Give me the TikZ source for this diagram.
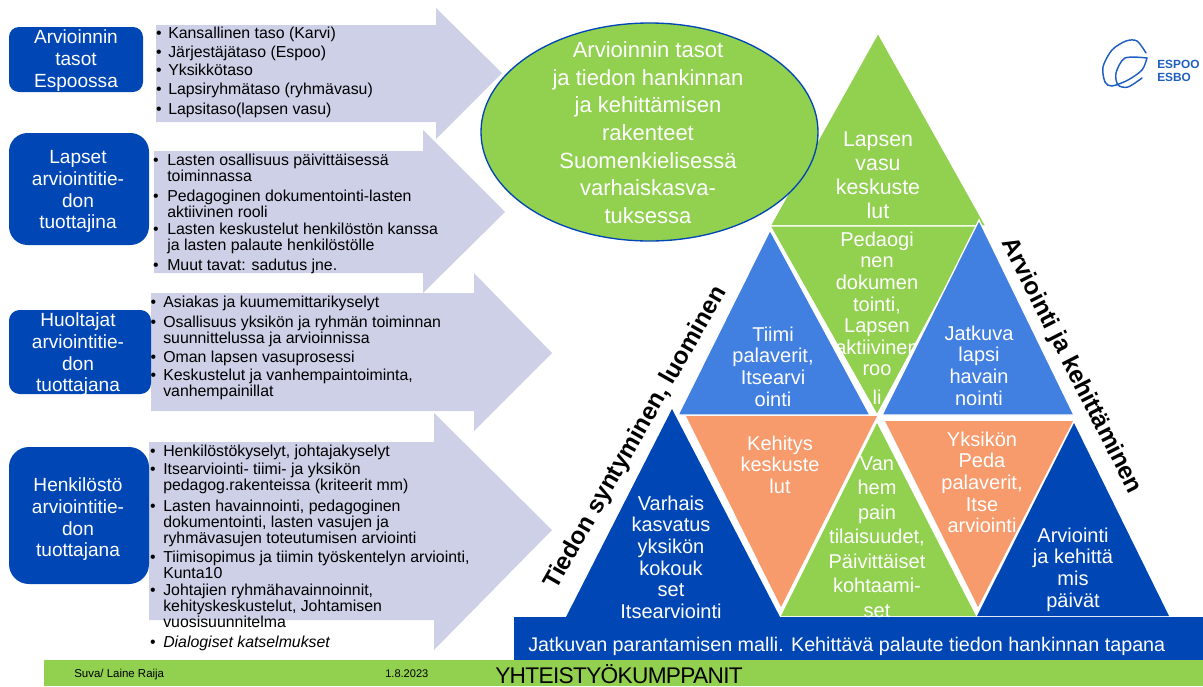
\documentclass[tikz,border=0pt]{standalone}
\usepackage{fontspec}
\setmainfont{Liberation Sans}
\definecolor{dblue}{HTML}{0047B5}
\definecolor{mblue}{HTML}{417FE0}
\definecolor{lgreen}{HTML}{92D050}
\definecolor{orng}{HTML}{F79A6C}
\definecolor{lav}{HTML}{CDD0E6}
\definecolor{logob}{HTML}{1F5FC0}
\newcommand{\fs}[2]{\fontsize{#1}{#2}\selectfont}
\tikzset{
  arrowsty/.style={fill=lav},
  boxsty/.style={fill=dblue},
  tri/.style={fill=#1,draw=white,line width=1pt,line join=miter},
  txt/.style={inner sep=0pt,anchor=north,align=center,text=white,yshift=14pt},
  boxtxt/.style={txt,font=\fs{14.3}{16.4}},
  tritxt/.style={txt,font=\fs{15}{16.2}},
  item/.style={inner sep=0pt,anchor=north west,align=left,text=black,yshift=14pt,font=\fs{11.9}{12}},
  bul/.style={inner sep=0pt,anchor=base,text=black,font=\fs{11.9}{12}},
  rottxt/.style={inner sep=0pt,text=black,font=\bfseries\fs{18.3}{20}},
}
% #1 name, #2 bullet x, #3 text x, #4 first baseline y, #5 text
\newcommand{\bitem}[5]{%
  \node[bul] (#1b) at (#2,#4) {•};
  \node[item] (#1) at (#3,#4) {\rule{0pt}{14pt}#5};}
\newcommand{\lbl}[5]{\node[#1] (#2) at (#3,#4) {\rule{0pt}{14pt}#5};}
\begin{document}
\begin{tikzpicture}[x=0.75pt,y=-0.75pt]
\useasboundingbox (0,0) rectangle (1203,686);
% block arrows
\fill[arrowsty] (156,25) -- (436,25) -- (436,8) -- (502,73) -- (436,139) -- (436,122) -- (156,122) -- cycle;
\fill[arrowsty] (154,151) -- (423,151) -- (423,130) -- (505,212) -- (423,293) -- (423,273) -- (154,273) -- cycle;
\fill[arrowsty] (151,293) -- (474,293) -- (474,273) -- (552,353) -- (474,431) -- (474,411) -- (151,411) -- cycle;
\fill[arrowsty] (149,442) -- (434,442) -- (434,413) -- (552,530) -- (434,650) -- (434,620) -- (149,620) -- cycle;
% boxes
\fill[boxsty,rounded corners=7.5pt] (9,27) rectangle (143,92);
\fill[boxsty,rounded corners=14pt] (9,133) rectangle (149,245);
\fill[boxsty,rounded corners=8pt] (9,310) rectangle (151,394);
\fill[boxsty,rounded corners=15pt] (9,447) rectangle (149,584);
\lbl{boxtxt}{bt1}{76}{43}{Arvioinnin\\tasot\\Espoossa}
\lbl{boxtxt}{bt2}{78}{163}{Lapset\\arviointitie-\\don\\tuottajina}
\lbl{boxtxt}{bt3}{78}{326}{Huoltajat\\arviointitie-\\don\\tuottajana}
\lbl{boxtxt}{bt4}{78}{491}{Henkilöstö\\arviointitie-\\don\\tuottajana}
% list 1
\bitem{a1}{159}{168}{38}{Kansallinen taso (Karvi)}
\bitem{a2}{159}{168}{57}{Järjestäjätaso (Espoo)}
\bitem{a3}{159}{168}{75}{Yksikkötaso}
\bitem{a4}{159}{168}{94}{Lapsiryhmätaso (ryhmävasu)}
\bitem{a5}{159}{168}{114}{Lapsitaso(lapsen vasu)}
% list 2
\bitem{c1}{156}{167}{165}{Lasten osallisuus päivittäisessä\\toiminnassa}
\bitem{c2}{156}{167}{201}{Pedagoginen dokumentointi-lasten\\aktiivinen rooli}
\bitem{c3}{156}{167}{234}{Lasten keskustelut henkilöstön kanssa\\ja lasten palaute henkilöstölle}
\bitem{c4}{156}{167}{270}{Muut tavat: sadutus jne.}
% list 3
\bitem{d1}{153.5}{163}{307}{Asiakas ja kuumemittarikyselyt}
\bitem{d2}{153.5}{163}{327}{Osallisuus yksikön ja ryhmän toiminnan\\suunnittelussa ja arvioinnissa}
\bitem{d3}{153.5}{163}{362}{Oman lapsen vasuprosessi}
\bitem{d4}{153.5}{163}{380}{Keskustelut ja vanhempaintoiminta,\\vanhempainillat}
% list 4
\bitem{e1}{153}{163}{456}{Henkilöstökyselyt, johtajakyselyt}
\bitem{e2}{153}{163}{474}{Itsearviointi- tiimi- ja yksikön\\pedagog.rakenteissa (kriteerit mm)}
\bitem{e3}{153}{163}{511}{Lasten havainnointi, pedagoginen\\dokumentointi, lasten vasujen ja\\ryhmävasujen toteutumisen arviointi}
\bitem{e4}{153}{163}{562}{Tiimisopimus ja tiimin työskentelyn arviointi,\\Kunta10}
\bitem{e5}{153}{163}{595}{Johtajien ryhmähavainnoinnit,\\kehityskeskustelut, Johtamisen\\vuosisuunnitelma}
\bitem{e6}{153}{163}{647}{\itshape Dialogiset katselmukset}
% triangles
\path[tri=lgreen] (878,33) -- (986,226) -- (770,226) -- cycle;
\path[tri=lgreen] (770,226) -- (979,226) -- (877,415) -- cycle;
\lbl{tritxt,font=\fs{16}{18}}{t1}{878}{146}{Lapsen\\vasu\\keskuste\\lut}
\lbl{tritxt}{t2}{877}{246}{Pedaogi\\nen\\dokumen\\tointi,\\Lapsen\\aktiivinen\\roo\\[5.5pt]li}
\path[tri=mblue] (770,230) -- (870,415) -- (678,415) -- cycle;
\path[tri=mblue] (979,220) -- (1074,415) -- (882,415) -- cycle;
\path[tri=orng,draw=none] (686,416) -- (877,416) -- (781,607) -- cycle;
\path[tri=orng,draw=none] (885,421) -- (1073,421) -- (978,607) -- cycle;
\path[tri=lgreen,draw=none] (877,423) -- (976,616) -- (781,616) -- cycle;
\path[tri=dblue,draw=none] (672,409) -- (780,617) -- (566,617) -- cycle;
\path[tri=dblue,draw=none] (1074,423) -- (1169,616) -- (977,616) -- cycle;
% bars
\fill[dblue] (514,617) rectangle (1203,660);
\fill[lgreen] (44,660) rectangle (1203,686);
% ellipse
\path[fill=lgreen,draw=dblue,line width=1pt] (649.5,132) ellipse [x radius=168.5,y radius=109];
\lbl{txt,font=\fs{16.5}{20.8}}{el}{648}{57}{Arvioinnin tasot\\ja tiedon hankinnan\\ja kehittämisen\\rakenteet\\Suomenkielisessä\\varhaiskasva-\\tuksessa}
% triangle labels
\lbl{tritxt}{t3}{773}{341}{Tiimi\\palaverit,\\Itsearvi\\ointi}
\lbl{tritxt}{t4}{979}{340}{Jatkuva\\lapsi\\havain\\nointi}
\lbl{tritxt}{t5}{780}{450}{Kehitys\\keskuste\\lut}
\lbl{tritxt,font=\fs{15}{18.4}}{t6}{877}{470}{Van\\hem\\pain\\tilaisuudet,\\Päivittäiset\\kohtaami-\\set}
\lbl{tritxt}{t7}{982}{446}{Yksikön\\Peda\\palaverit,\\Itse\\arviointi}
\lbl{tritxt}{t8}{671}{510}{Varhais\\kasvatus\\yksikön\\kokouk\\set\\Itsearviointi}
\lbl{tritxt}{t9}{1073}{542}{Arviointi\\ja kehittä\\mis\\päivät}
% rotated labels
\node[rottxt,rotate=60.3] (r1) at (636,438) {Tiedon syntyminen, luominen};
\node[rottxt,rotate=-63] (r2) at (1071,366) {Arviointi ja kehittäminen};
% bar texts
\node[inner sep=0pt,anchor=base west,text=white,font=\fs{14.8}{16}] (b1) at (528,651) {Jatkuvan parantamisen malli. Kehittävä palaute tiedon hankinnan tapana};
\node[inner sep=0pt,anchor=base west,text=black,font=\fs{17}{18}\addfontfeature{LetterSpace=-3}] (b2) at (495,683) {YHTEISTYÖKUMPPANIT};
\node[inner sep=0pt,anchor=base west,text=black,font=\fs{8.6}{10}] (f1) at (74,677) {Suva/ Laine Raija};
\node[inner sep=0pt,anchor=base west,text=black,font=\fs{8.3}{10}] (f2) at (385,677) {1.8.2023};
% logo
\draw[logob,line width=1.1pt,line cap=round] plot[smooth] coordinates {(1146,53) (1137,41) (1126,41) (1112,50) (1103,67) (1105,82) (1112,86) (1128,80) (1142,70) (1147,58)};
\draw[logob,line width=1.1pt,line cap=round] plot[smooth] coordinates {(1147,58) (1125,58) (1116,73) (1118,85) (1128,87) (1142,78)};
\node[inner sep=0pt,anchor=base west,text=logob,font=\bfseries\fs{8.9}{10}] (l1) at (1157,68) {ESPOO};
\node[inner sep=0pt,anchor=base west,text=logob,font=\bfseries\fs{8.9}{10}] (l2) at (1157,81) {ESBO};
\end{tikzpicture}
\end{document}
